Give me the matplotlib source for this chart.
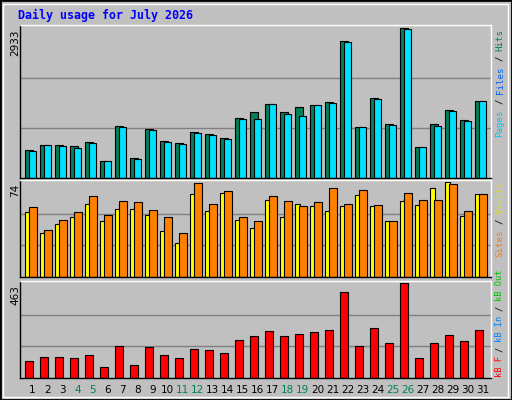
import numpy as np
import matplotlib.pyplot as plt
from matplotlib.patches import Rectangle

days = list(range(1, 32))
weekend = [4, 5, 11, 12, 18, 19, 25, 26]

hits = [544, 644, 644, 624, 704, 325, 1022, 385, 962, 723, 683, 902, 862, 783, 1181, 1300,
        1440, 1281, 1380, 1420, 1480, 2674, 1001, 1559, 1062, 2933, 604, 1062, 1321, 1141, 1500]
files = [524, 644, 624, 584, 683, 325, 1002, 365, 942, 703, 663, 882, 843, 763, 1161, 1161,
         1440, 1261, 1221, 1420, 1460, 2654, 1001, 1539, 1042, 2913, 604, 1022, 1301, 1121, 1500]
visits = [50.6, 34.4, 40.9, 46.6, 57.0, 43.3, 53.0, 53.0, 48.2, 36.1, 26.4, 64.3, 51.4, 65.1, 44.1, 38.5,
          60.3, 46.6, 57.0, 55.4, 51.4, 55.4, 63.5, 55.4, 43.3, 59.5, 56.2, 69.2, 74.0, 47.4, 64.3]
sites = [54.6, 36.9, 44.1, 50.6, 62.7, 48.2, 59.5, 58.7, 52.2, 46.6, 34.4, 73.2, 57.0, 66.7, 46.6, 43.3,
         62.7, 59.5, 55.4, 58.7, 69.2, 57.0, 67.5, 56.2, 43.3, 65.1, 60.3, 60.3, 72.4, 51.4, 64.3]
kbytes = [82, 103, 103, 98, 113, 52, 158, 62, 153, 113, 98, 143, 138, 123, 184, 204,
          229, 204, 214, 224, 234, 421, 158, 244, 168, 463, 98, 168, 209, 178, 234]

W, H = 512, 400
GREY = '#c0c0c0'
fig = plt.figure(figsize=(W / 100, H / 100), dpi=100, facecolor=GREY)

# outer frame
fig.add_artist(Rectangle((0, 0), 1, 1, transform=fig.transFigure, fill=False, ec='black', lw=2))
fig.add_artist(Rectangle((3 / W, 3 / H), 1 - 7 / W, 1 - 7 / H, transform=fig.transFigure,
                         fill=False, ec='white', lw=1))


def add_ax(top, bottom):
    ax = fig.add_axes([20 / W, 1 - bottom / H, 471 / W, (bottom - top) / H])
    ax.set_facecolor(GREY)
    ax.set_xlim(0.667, 32.07)
    ax.set_xticks([])
    ax.set_yticks([])
    for s in ax.spines.values():
        s.set_color('black')
        s.set_linewidth(1)
    ax.spines['top'].set_color('white')
    ax.spines['right'].set_color('white')
    return ax


x = np.array(days)

ax1 = add_ax(25, 178)
top1 = max(hits)
ax1.set_ylim(0, top1 * 1.02)
for g in (top1 / 3, 2 * top1 / 3):
    ax1.axhline(g, color='#808080', lw=1, zorder=0)
ax1.bar(x, hits, width=0.53, align='edge', color='#00805c', ec='black', lw=0.8)
ax1.bar(x + 0.27, files, width=0.46, align='edge', color='#00e0ff', ec='black', lw=0.8)

ax2 = add_ax(180, 277)
top2 = max(visits + sites)
ax2.set_ylim(0, top2 * 1.02)
for g in (top2 / 3, 2 * top2 / 3):
    ax2.axhline(g, color='#808080', lw=1, zorder=0)
ax2.bar(x, visits, width=0.33, align='edge', color='#ffff00', ec='black', lw=0.8)
ax2.bar(x + 0.29, sites, width=0.49, align='edge', color='#ff8000', ec='black', lw=0.8)

ax3 = add_ax(281, 378)
top3 = max(kbytes)
ax3.set_ylim(0, top3 * 1.02)
for g in (top3 / 3, 2 * top3 / 3):
    ax3.axhline(g, color='#808080', lw=1, zorder=0)
ax3.bar(x, kbytes, width=0.51, align='edge', color='#ff0000', ec='black', lw=0.8)

for d in days:
    ax3.text(d + 0.5, -0.12, str(d), transform=ax3.get_xaxis_transform(), ha='center', va='center',
             fontsize=7.5, color='#00805c' if d in weekend else 'black')

fig.text(18 / W, 1 - 15 / H, 'Daily usage for July 2026', color='#0000ff', fontsize=8.4,
         family='DejaVu Sans Mono', weight='bold', va='center')

for ypx, lab in ((29, f'{top1:.0f}'), (184, f'{top2:.0f}'), (285, f'{top3:.0f}')):
    fig.text(15 / W, 1 - ypx / H, lab, rotation=90, ha='center', va='top', fontsize=7.5)


def side_label(bottom_px, parts, fs):
    cw = 0.602 * fs * 100 / 72
    y = bottom_px
    for i, (txt, col) in enumerate(parts):
        if i:
            fig.text(500 / W, 1 - y / H, '/', rotation=90, ha='center', va='bottom',
                     fontsize=fs, family='DejaVu Sans Mono', color='black')
            y -= 1.9 * cw
        fig.text(500 / W, 1 - y / H, txt, rotation=90, ha='center', va='bottom',
                 fontsize=fs, family='DejaVu Sans Mono', color=col)
        y -= (len(txt) + 0.9) * cw


side_label(137, [('Pages', '#00c0ff'), ('Files', '#0060ff'), ('Hits', '#00805c')], 6.6)
side_label(257, [('Sites', '#ff8000'), ('Visits', '#e0e000')], 6.6)
side_label(377, [('kB F', '#ff0000'), ('kB In', '#0080ff'), ('kB Out', '#00c000')], 6.2)

fig.savefig('out.png', dpi=100, facecolor=GREY)
